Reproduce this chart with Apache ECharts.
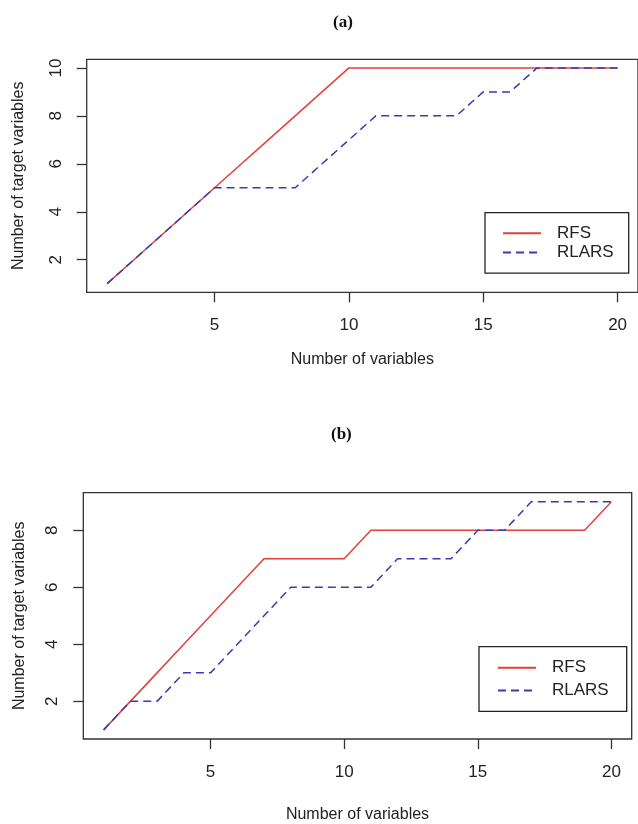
<!DOCTYPE html>
<html lang="en">
<head>
    <meta charset="UTF-8">
    <title>RFS vs RLARS</title>
    <script src="https://cdn.jsdelivr.net/npm/echarts@6/dist/echarts.min.js"></script>
    <style>
        * {
            margin: 0;
            padding: 0;
        }

        #chart {
            width: 638px;
            height: 824px;
            background: #fff;
        }
    </style>
</head>
<body>
    <div id="chart"></div>
    <script>
        // number of variables
        const xs = [1, 2, 3, 4, 5, 6, 7, 8, 9, 10, 11, 12, 13, 14, 15, 16, 17, 18, 19, 20]
        // panel (a)
        const rfsA = [1, 2, 3, 4, 5, 6, 7, 8, 9, 10, 10, 10, 10, 10, 10, 10, 10, 10, 10, 10]
        const rlarsA = [1, 2, 3, 4, 5, 5, 5, 5, 6, 7, 8, 8, 8, 8, 9, 9, 10, 10, 10, 10]
        // panel (b)
        const rfsB = [1, 2, 3, 4, 5, 6, 7, 7, 7, 7, 8, 8, 8, 8, 8, 8, 8, 8, 8, 9]
        const rlarsB = [1, 2, 2, 3, 3, 4, 5, 6, 6, 6, 6, 7, 7, 7, 8, 8, 9, 9, 9, 9]

        const xTicks = [5, 10, 15, 20]
        const yTicksA = [2, 4, 6, 8, 10]
        const yTicksB = [2, 4, 6, 8]

        const pairs = ys => xs.map((x, i) => [x, ys[i]])

        const RED = '#e2403c'
        const BLUE = '#3a3ab4'
        const INK = '#222'
        const FONT = 'Liberation Sans'

        function xAxis(gridIndex, nameGap) {
            return {
                type: 'value',
                gridIndex: gridIndex,
                min: 0.24,
                max: 20.76,
                name: 'Number of variables',
                nameLocation: 'middle',
                nameGap: nameGap,
                nameTextStyle: { color: INK, fontSize: 16, fontFamily: FONT },
                axisLine: { show: false },
                splitLine: { show: false },
                axisTick: { show: true, length: 10, customValues: xTicks, lineStyle: { color: '#333', width: 1.3 } },
                axisLabel: { customValues: xTicks, margin: 25, color: INK, fontSize: 17, fontFamily: FONT }
            }
        }

        function yAxis(gridIndex, min, max, ticks, nameGap) {
            return {
                type: 'value',
                gridIndex: gridIndex,
                min: min,
                max: max,
                name: 'Number of target variables',
                nameLocation: 'middle',
                nameGap: nameGap,
                nameTextStyle: { color: INK, fontSize: 16, fontFamily: FONT },
                axisLine: { show: false },
                splitLine: { show: false },
                axisTick: { show: true, length: 10, customValues: ticks, lineStyle: { color: '#333', width: 1.3 } },
                axisLabel: { customValues: ticks, rotate: 90, margin: 22, color: INK, fontSize: 17, fontFamily: FONT }
            }
        }

        function line(name, data, idx, color, dashed) {
            return {
                name: name,
                type: 'line',
                xAxisIndex: idx,
                yAxisIndex: idx,
                data: data,
                symbol: 'none',
                lineStyle: { color: color, width: 1.5, type: dashed ? [8, 5] : 'solid' },
                itemStyle: { color: color }
            }
        }

        function legend(left, top, gap, pad) {
            return {
                data: ['RFS', 'RLARS'],
                orient: 'vertical',
                left: left,
                top: top,
                padding: pad,
                itemGap: gap,
                itemWidth: 38,
                itemHeight: 12,
                borderColor: '#222',
                borderWidth: 1.3,
                borderRadius: 0,
                selectedMode: false,
                // hide the symbol, keep only the line
                itemStyle: { opacity: 0 },
                textStyle: { color: INK, fontSize: 17, fontFamily: FONT, padding: [0, 0, 0, 11] }
            }
        }

        const chart = echarts.init(document.querySelector('#chart'))

        const option = {
            animation: false,
            title: [
                { text: '(a)', left: 328, top: 9, textStyle: { fontFamily: 'Liberation Serif', fontWeight: 'bold', fontSize: 17, color: '#111' } },
                { text: '(b)', left: 326, top: 421, textStyle: { fontFamily: 'Liberation Serif', fontWeight: 'bold', fontSize: 17, color: '#111' } }
            ],
            grid: [
                { left: 86.7, top: 59.3, right: -5, height: 233, show: true, borderColor: '#333', borderWidth: 1.3, containLabel: false },
                { left: 83.3, top: 492.7, width: 548.4, height: 248, show: true, borderColor: '#333', borderWidth: 1.3, containLabel: false }
            ],
            legend: [
                legend(485, 212.7, 2.4, [12, 15, 12, 17]),
                legend(479, 646.7, 5.7, [12.5, 18, 12.5, 18])
            ],
            xAxis: [xAxis(0, 59), xAxis(1, 68)],
            yAxis: [yAxis(0, 0.64, 10.36, yTicksA, 60), yAxis(1, 0.68, 9.32, yTicksB, 56)],
            series: [
                line('RFS', pairs(rfsA), 0, RED, false),
                line('RLARS', pairs(rlarsA), 0, BLUE, true),
                line('RFS', pairs(rfsB), 1, RED, false),
                line('RLARS', pairs(rlarsB), 1, BLUE, true)
            ]
        }
        chart.setOption(option)
    </script>
</body>
</html>
